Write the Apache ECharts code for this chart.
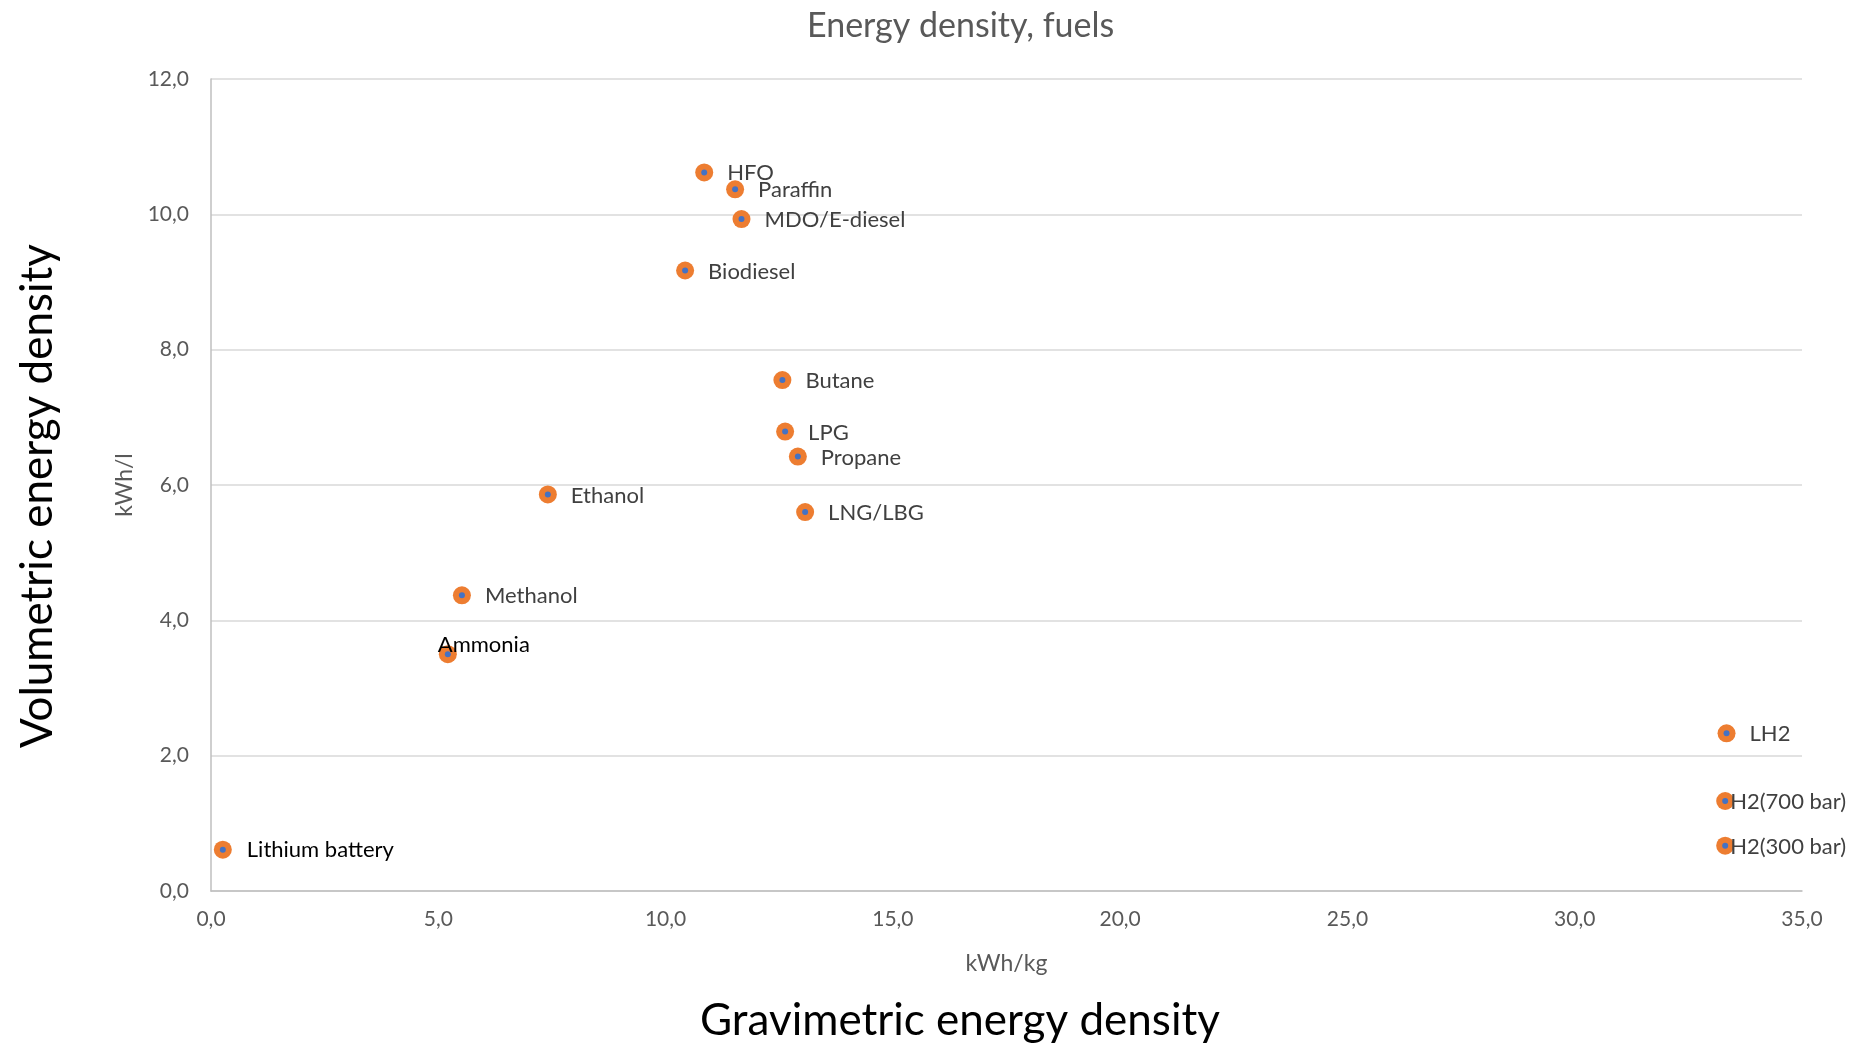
<!DOCTYPE html>
<html>
<head>
<meta charset="utf-8">
<title>Energy density, fuels</title>
<script src="https://cdn.jsdelivr.net/npm/echarts@6/dist/echarts.min.js"></script>
<style>
  html, body { margin: 0; padding: 0; background: #fff; }
  #chart { width: 1850px; height: 1047px; }
</style>
</head>
<body>
<div id="chart"></div>
<script>
// Fuel names and their energy densities
const fuels = ['HFO', 'Paraffin', 'MDO/E-diesel', 'Biodiesel', 'Butane', 'LPG', 'Propane',
  'LNG/LBG', 'Ethanol', 'Methanol', 'Ammonia', 'LH2', 'H2(700 bar)', 'H2(300 bar)', 'Lithium battery'];
const gravimetric = [10.85, 11.53, 11.67, 10.43, 12.57, 12.63, 12.91,
  13.07, 7.41, 5.52, 5.21, 33.34, 33.31, 33.31, 0.26];   // kWh/kg
const volumetric = [10.62, 10.37, 9.93, 9.17, 7.55, 6.79, 6.42,
  5.60, 5.86, 4.37, 3.50, 2.33, 1.33, 0.67, 0.61];        // kWh/l

// Axis ranges
const xMin = 0, xMax = 35, xStep = 5;
const yMin = 0, yMax = 12, yStep = 2;

const FONT = 'Lato, "Open Sans", sans-serif';
const fmt = v => v.toFixed(1).replace('.', ',');

// Per-label placement tweaks (label offset relative to the point)
function labelFor(name) {
  const base = { show: true, position: 'inside', align: 'left', verticalAlign: 'middle',
    offset: [23, 1], fontFamily: FONT, fontSize: 22, color: '#404040', formatter: name };
  if (name === 'H2(700 bar)' || name === 'H2(300 bar)') base.offset = [5, 1];
  if (name === 'Ammonia') { base.offset = [-10, -9]; base.color = '#000'; }
  if (name === 'Lithium battery') { base.offset = [24, 0]; base.color = '#000'; }
  return base;
}

const points = fuels.map((n, i) => ({ name: n, value: [gravimetric[i], volumetric[i]] }));
const labelled = fuels.map((n, i) => ({ name: n, value: [gravimetric[i], volumetric[i]], label: labelFor(n) }));

const chart = echarts.init(document.getElementById('chart'), null, { renderer: 'canvas' });
chart.setOption({
  backgroundColor: '#ffffff',
  animation: false,
  title: {
    text: 'Energy density, fuels',
    left: 802, top: 4,
    textStyle: { fontFamily: FONT, fontSize: 34, fontWeight: 'normal', color: '#595959' }
  },
  grid: { left: 211, top: 79, right: 48, bottom: 156, containLabel: false },
  xAxis: {
    type: 'value', min: xMin, max: xMax, interval: xStep,
    name: 'kWh/kg', nameLocation: 'middle', nameGap: 61,
    nameTextStyle: { fontFamily: FONT, fontSize: 23, color: '#595959' },
    axisLine: { show: true, lineStyle: { color: '#bfbfbf', width: 1.5 } },
    axisTick: { show: false },
    splitLine: { show: false },
    axisLabel: { fontFamily: FONT, fontSize: 21, color: '#595959', margin: 18, formatter: fmt }
  },
  yAxis: {
    type: 'value', min: yMin, max: yMax, interval: yStep,
    name: 'kWh/l', nameLocation: 'middle', nameGap: 75, nameRotate: 90,
    nameTextStyle: { fontFamily: FONT, fontSize: 23, color: '#595959' },
    axisLine: { show: true, lineStyle: { color: '#bfbfbf', width: 1.5 } },
    axisTick: { show: false },
    splitLine: { show: true, lineStyle: { color: '#d9d9d9', width: 1.5 } },
    axisLabel: { fontFamily: FONT, fontSize: 21, color: '#595959', margin: 22, formatter: fmt }
  },
  series: [
    {
      type: 'scatter', name: 'outer', data: points,
      symbol: 'circle', symbolSize: 18,
      itemStyle: { color: '#ED7D31', opacity: 1 }, z: 2
    },
    {
      type: 'scatter', name: 'inner', data: labelled,
      symbol: 'circle', symbolSize: 6,
      itemStyle: { color: '#4472C4', opacity: 1 }, z: 3
    }
  ],
  graphic: [
    {
      type: 'text', x: 38, y: 496, rotation: Math.PI / 2,
      style: { text: 'Volumetric energy density', fontFamily: FONT, fontSize: 44,
        fill: '#000', align: 'center', verticalAlign: 'middle' }
    },
    {
      type: 'text', x: 960, y: 1021,
      style: { text: 'Gravimetric energy density', fontFamily: FONT, fontSize: 44,
        fill: '#000', align: 'center', verticalAlign: 'middle' }
    }
  ]
});
</script>
</body>
</html>
